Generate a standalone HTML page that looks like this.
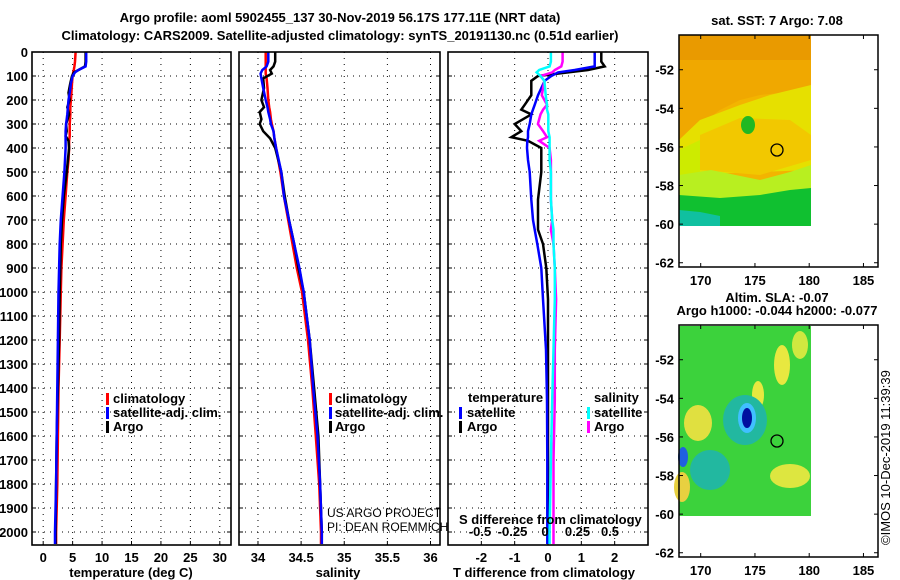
<!DOCTYPE html>
<html><head><meta charset="utf-8">
<style>
html,body{margin:0;padding:0;background:#fff;}
svg{display:block;font-family:"Liberation Sans",sans-serif;}
.b{font-weight:bold;font-size:13px;}
</style></head>
<body>
<svg id="c" width="900" height="580" viewBox="0 0 900 580" xmlns="http://www.w3.org/2000/svg">
<text class="b" x="340" y="22" text-anchor="middle">Argo profile: aoml 5902455_137 30-Nov-2019 56.17S 177.11E (NRT data)</text>
<text class="b" x="340" y="40" text-anchor="middle">Climatology: CARS2009. Satellite-adjusted climatology: synTS_20191130.nc (0.51d earlier)</text>

<!-- maps -->
<g>
<text class="b" x="777" y="25" text-anchor="middle" font-size="12">sat. SST: 7 Argo: 7.08</text>
<rect x="679" y="35" width="132" height="191" fill="#f3b400"/>
<rect x="679" y="35" width="132" height="25" fill="#e99a00"/>
<path d="M679 60 L811 60 L811 90 L760 95 L740 100 L720 110 L700 125 L679 140Z" fill="#f0a800"/>
<path d="M679 140 L700 120 L740 105 L770 95 L811 85 L811 170 L679 175Z" fill="#e6e000"/>
<path d="M700 135 L740 118 L790 120 L811 135 L811 160 L760 175 L700 170Z" fill="#f2c800"/>
<path d="M679 150 L700 140 L700 175 L679 180Z" fill="#cdeb00"/>
<ellipse cx="748" cy="125" rx="7" ry="9" fill="#22b822"/>
<path d="M679 175 L711 170 L760 180 L790 172 L811 165 L811 200 L679 200Z" fill="#b8ef20"/>
<path d="M679 195 L720 198 L760 195 L790 190 L811 188 L811 226 L679 226Z" fill="#10c030"/>
<path d="M679 210 L700 212 L720 216 L720 226 L679 226Z" fill="#10c0a0"/>
<circle cx="777" cy="150" r="6" fill="none" stroke="#000" stroke-width="1.3"/>
<rect x="679" y="35" width="199" height="232" fill="none" stroke="#000" stroke-width="1.5"/>
</g>
<g>
<text class="b" x="777" y="302" text-anchor="middle" font-size="12">Altim. SLA: -0.07</text>
<text class="b" x="777" y="315" text-anchor="middle" font-size="12">Argo h1000: -0.044 h2000: -0.077</text>
<rect x="679" y="326" width="132" height="190" fill="#3cd23c"/>
<ellipse cx="782" cy="365" rx="8" ry="20" fill="#e8e840"/>
<ellipse cx="758" cy="395" rx="6" ry="14" fill="#e8e840"/>
<ellipse cx="698" cy="423" rx="14" ry="18" fill="#e0e040"/>
<ellipse cx="682" cy="487" rx="8" ry="15" fill="#e8d040"/>
<ellipse cx="790" cy="476" rx="20" ry="12" fill="#dde640"/>
<ellipse cx="800" cy="345" rx="8" ry="14" fill="#d0e840"/>
<ellipse cx="745" cy="420" rx="22" ry="25" fill="#22b8a0"/>
<ellipse cx="710" cy="470" rx="20" ry="20" fill="#22b8a0"/>
<ellipse cx="747" cy="418" rx="9" ry="15" fill="#40c0ff"/>
<ellipse cx="747" cy="418" rx="5" ry="10" fill="#0010a0"/>
<ellipse cx="683" cy="457" rx="5" ry="10" fill="#2060e0"/>
<circle cx="777" cy="441" r="6" fill="none" stroke="#000" stroke-width="1.3"/>
<rect x="679" y="325" width="199" height="232" fill="none" stroke="#000" stroke-width="1.5"/>
</g>
<text x="890" y="545" transform="rotate(-90 890 545)" font-size="13">©IMOS 10-Dec-2019 11:39:39</text>

<text x="327" y="517" font-size="12">US ARGO PROJECT</text>
<text x="327" y="531" font-size="12">PI: DEAN ROEMMICH</text>
</svg>
<script>
// ---- data ----
const depthTicks=[0,100,200,300,400,500,600,700,800,900,1000,1100,1200,1300,1400,1500,1600,1700,1800,1900,2000];
const tTicks=[0,5,10,15,20,25,30];
const sTicks=[34,34.5,35,35.5,36];
const sTickLabels=["34","34.5","35","35.5","36"];
const dTicks=[-2,-1,0,1,2];
const dsTicks=[-0.5,-0.25,0,0.25,0.5];
const dsTickLabels=["-0.5","-0.25","0","0.25","0.5"];
const latTicks=[-52,-54,-56,-58,-60,-62];
const lonTicks=[170,175,180,185];

const pT=[0,40,60,75,85,100,130,170,200,230,260,300,330,350,370,400,450,500,600,700,800,900,1000,1200,1400,1600,1800,2000,2050];
const tempArgo=[7.2,7.2,7.1,6.0,5.2,4.9,4.6,4.3,4.5,4.1,4.4,3.9,4.0,3.8,4.3,4.4,4.2,4.0,3.5,3.2,3.0,2.9,2.8,2.7,2.5,2.3,2.2,2.1,2.1];
const tempSat=[7.3,7.3,7.2,6.0,5.4,5.0,4.7,4.5,4.3,4.2,4.1,3.9,3.8,3.8,3.8,3.8,3.7,3.6,3.3,3.0,2.8,2.7,2.6,2.5,2.4,2.3,2.2,2.0,2.0];
const tempClim=[5.5,5.4,5.3,5.2,5.1,5.0,4.9,4.8,4.7,4.6,4.6,4.5,4.5,4.5,4.4,4.4,4.3,4.1,3.8,3.5,3.3,3.1,3.0,2.8,2.6,2.5,2.4,2.2,2.2];

const pS=[0,40,60,75,90,110,150,200,230,250,280,300,330,360,400,500,600,700,800,900,1000,1200,1400,1600,1800,2000,2050];
const salArgo=[34.20,34.20,34.18,34.14,34.16,34.06,34.07,34.04,34.07,34.02,34.04,34.02,34.06,34.14,34.20,34.27,34.31,34.36,34.42,34.47,34.53,34.60,34.65,34.70,34.72,34.74,34.74];
const salSat=[34.12,34.12,34.10,34.05,34.03,34.04,34.06,34.09,34.11,34.12,34.14,34.15,34.18,34.19,34.21,34.27,34.30,34.36,34.42,34.48,34.53,34.60,34.64,34.69,34.72,34.74,34.74];
const salClim=[34.09,34.09,34.09,34.09,34.09,34.10,34.11,34.12,34.13,34.14,34.15,34.16,34.18,34.19,34.21,34.26,34.30,34.35,34.40,34.45,34.51,34.58,34.63,34.67,34.71,34.73,34.73];

const pD=[0,40,60,75,85,100,120,180,220,240,260,300,330,355,370,400,450,500,615,700,740,800,900,1030,1240,1450,1700,2000,2050];
const dTArgo=[1.6,1.6,1.7,1.2,0.6,-0.3,-0.5,-0.5,-0.7,-0.8,-0.5,-1.0,-0.8,-1.1,-0.6,-0.2,-0.2,-0.2,-0.3,-0.3,-0.3,-0.15,-0.05,0,0,0,0,0,0];
const dTSat=[1.4,1.4,1.4,0.8,0.3,0.1,-0.1,-0.3,-0.4,-0.45,-0.5,-0.55,-0.6,-0.6,-0.62,-0.63,-0.6,-0.55,-0.5,-0.45,-0.4,-0.32,-0.2,-0.15,-0.06,-0.03,-0.02,-0.02,-0.02];
const dSSat=[0.03,0.03,0.02,-0.06,-0.08,-0.05,-0.02,-0.01,0,0,0.01,0.01,0.01,0.02,0.02,0.02,0.02,0.03,0.03,0.04,0.05,0.05,0.06,0.06,0.05,0.04,0.03,0.02,0.02];
const dSArgo=[0.12,0.12,0.11,0.06,0.04,-0.05,-0.02,-0.04,0.0,-0.03,-0.05,-0.07,-0.03,0,-0.06,0.02,0.03,0.03,0.03,0.04,0.03,0.05,0.06,0.07,0.06,0.06,0.05,0.05,0.05];

// ---- layout ----
const NS="http://www.w3.org/2000/svg";
const svg=document.getElementById('c');
const Y0=52, Y1=545;
function yP(p){return Y0+p*0.24;}
const P1={x0:32,x1:231,v0:-1.9,v1:31.9};
const P2={x0:239,x1:440,v0:33.78,v1:36.11};
const P3={x0:448,x1:648,v0:-3,v1:3};
function sx(P,v){return P.x0+(v-P.v0)/(P.v1-P.v0)*(P.x1-P.x0);}
function dsx(v){return 547+v*130;}
function mk(tag,attrs,parent){const e=document.createElementNS(NS,tag);for(const k in attrs)e.setAttribute(k,attrs[k]);(parent||svg).appendChild(e);return e;}

function panel(P,name){
  const g=mk('g',{});
  
  
  depthTicks.forEach(p=>{
    const l=mk('line',{x1:P.x0,x2:P.x1,y1:yP(p),y2:yP(p),stroke:'#000','stroke-width':1,'stroke-dasharray':'1 5'},g);
    
    
    mk('line',{x1:P.x0,x2:P.x0+4,y1:yP(p),y2:yP(p),stroke:'#000','stroke-width':1},g);
    mk('line',{x1:P.x1-4,x2:P.x1,y1:yP(p),y2:yP(p),stroke:'#000','stroke-width':1},g);
  });
  return g;
}
function vgrid(g,xs){xs.forEach(x=>{
  const l=mk('line',{x1:x,x2:x,y1:Y0,y2:Y1,stroke:'#000','stroke-width':1,'stroke-dasharray':'1 5'},g);
  
  
  mk('line',{x1:x,x2:x,y1:Y1-4,y2:Y1,stroke:'#000'},g);
});}
function frame(g,P){const r=mk('rect',{x:P.x0,y:Y0,width:P.x1-P.x0,height:Y1-Y0,fill:'none',stroke:'#000','stroke-width':1.6},g);}
function line(g,xs,ps,color,w,name){
  const pts=xs.map((v,i)=>xs.fx(v).toFixed(1)+','+yP(ps[i]).toFixed(1)).join(' ');
  const l=mk('polyline',{points:pts,fill:'none',stroke:color,'stroke-width':w,'stroke-linejoin':'miter'},g);
  
  
}
function series(vals,f){const a=vals.slice();a.fx=f;return a;}
function txt(g,x,y,s,anchor,name,extra){const t=mk('text',Object.assign({x:x,y:y,'text-anchor':anchor||'start','class':'b'},extra||{}),g);t.textContent=s;return t;}
function legBar(g,x,y,c,name){const r=mk('rect',{x:x,y:y,width:3,height:12,fill:c},g);}

// depth labels
depthTicks.forEach(p=>{txt(svg,28,yP(p)+5,String(p),'end','depth-tick-label');});

// panel 1
const g1=panel(P1,'temperature-panel');
vgrid(g1,tTicks.map(v=>sx(P1,v)));
line(g1,series(tempClim,v=>sx(P1,v)),pT,'#f00',2.5,'temperature-climatology-line');
line(g1,series(tempArgo,v=>sx(P1,v)),pT,'#000',2.5,'temperature-argo-line');
line(g1,series(tempSat,v=>sx(P1,v)),pT,'#00f',2.5,'temperature-satellite-line');
frame(g1,P1);
tTicks.forEach(v=>txt(g1,sx(P1,v),562,String(v),'middle','temperature-tick-label'));
txt(g1,131,577,'temperature (deg C)','middle','x-axis-title-temperature');
legBar(g1,106,393,'#f00','legend-swatch-climatology');txt(g1,113,403,'climatology','start','legend-climatology');
legBar(g1,106,407,'#00f','legend-swatch-satellite');txt(g1,113,417,'satellite-adj. clim.','start','legend-satellite-adj');
legBar(g1,106,421,'#000','legend-swatch-argo');txt(g1,113,431,'Argo','start','legend-argo');

// panel 2
const g2=panel(P2,'salinity-panel');
vgrid(g2,sTicks.map(v=>sx(P2,v)));
line(g2,series(salClim,v=>sx(P2,v)),pS,'#f00',2.5,'salinity-climatology-line');
line(g2,series(salArgo,v=>sx(P2,v)),pS,'#000',2.5,'salinity-argo-line');
line(g2,series(salSat,v=>sx(P2,v)),pS,'#00f',2.5,'salinity-satellite-line');
frame(g2,P2);
sTicks.forEach((v,i)=>txt(g2,sx(P2,v),562,sTickLabels[i],'middle','salinity-tick-label'));
txt(g2,338,577,'salinity','middle','x-axis-title-salinity');
legBar(g2,329,393,'#f00','legend-swatch-climatology');txt(g2,335,403,'climatology','start','legend-climatology');
legBar(g2,329,407,'#00f','legend-swatch-satellite');txt(g2,335,417,'satellite-adj. clim.','start','legend-satellite-adj');
legBar(g2,329,421,'#000','legend-swatch-argo');txt(g2,335,431,'Argo','start','legend-argo');

// panel 3
const g3=panel(P3,'difference-panel');
vgrid(g3,dTicks.map(v=>sx(P3,v)));
line(g3,series(dTArgo,v=>sx(P3,v)),pD,'#000',2.5,'t-diff-argo-line');
line(g3,series(dTSat,v=>sx(P3,v)),pD,'#00f',2.5,'t-diff-satellite-line');
line(g3,series(dSArgo,dsx),pD,'#f0f',2.5,'s-diff-argo-line');
line(g3,series(dSSat,dsx),pD,'#0ff',2.5,'s-diff-satellite-line');
frame(g3,P3);
dTicks.forEach(v=>txt(g3,sx(P3,v),562,String(v),'middle','t-diff-tick-label'));
dsTicks.forEach((v,i)=>txt(g3,dsx(v)-2,536,dsTickLabels[i],'middle','s-diff-tick-label'));
txt(g3,459,524,'S difference from climatology','start','s-diff-axis-title');
txt(g3,544,577,'T difference from climatology','middle','x-axis-title-t-diff');
txt(g3,468,402,'temperature','start','legend-temperature-header');
legBar(g3,459,407,'#00f','legend-swatch-t-satellite');txt(g3,467,417,'satellite','start','legend-t-satellite');
legBar(g3,459,421,'#000','legend-swatch-t-argo');txt(g3,467,431,'Argo','start','legend-t-argo');
txt(g3,594,402,'salinity','start','legend-salinity-header');
legBar(g3,587,407,'#0ff','legend-swatch-s-satellite');txt(g3,594,417,'satellite','start','legend-s-satellite');
legBar(g3,587,421,'#f0f','legend-swatch-s-argo');txt(g3,594,431,'Argo','start','legend-s-argo');

// map axes
function mapAxes(top){
  const lat2y=l=>top+35+(-50.2-l)*19.3;
  latTicks.forEach(l=>{
    const y=lat2y(l);
    mk('line',{x1:679,x2:683,y1:y,y2:y,stroke:'#000'});
    mk('line',{x1:874,x2:878,y1:y,y2:y,stroke:'#000'});
    txt(svg,674,y+5,String(l),'end','map-lat-label',{'font-size':12});
  });
  lonTicks.forEach(l=>{
    const x=679+(l-168)*10.85;
    mk('line',{x1:x,x2:x,y1:top+263,y2:top+267,stroke:'#000'});
    mk('line',{x1:x,x2:x,y1:top+35,y2:top+39,stroke:'#000'});
    txt(svg,x,top+285,String(l),'middle','map-lon-label',{'font-size':12});
  });
}
mapAxes(0);mapAxes(290);
</script>
</body></html>
